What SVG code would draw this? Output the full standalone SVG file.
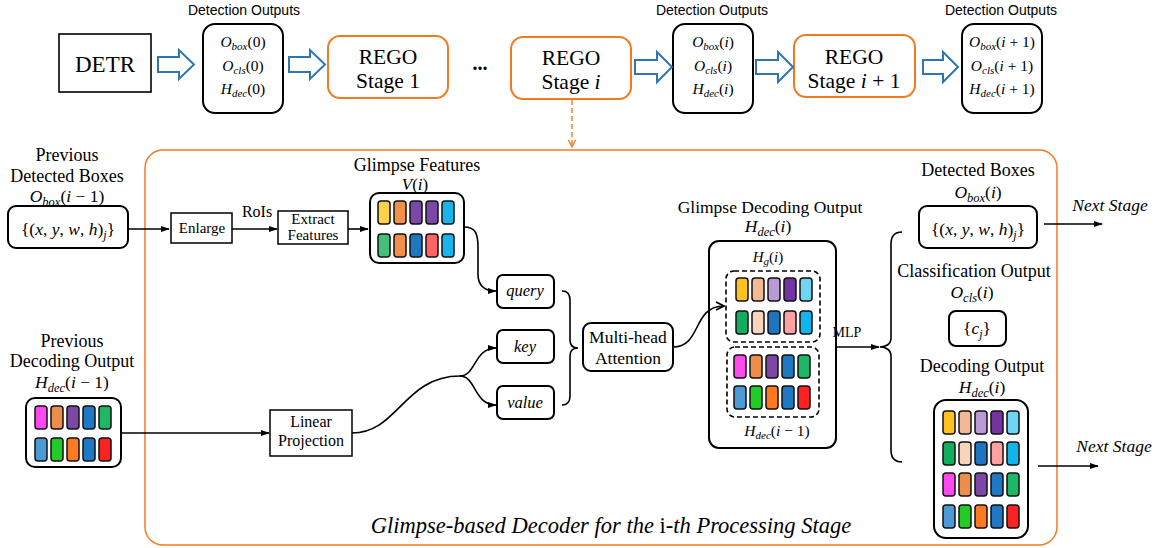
<svg xmlns="http://www.w3.org/2000/svg" xmlns:xlink="http://www.w3.org/1999/xlink" width="1154" height="548" viewBox="0 0 1154 548">
<defs>
<style>
.sf{font-family:"Liberation Serif","Times New Roman",serif;fill:#000}
.ss{font-family:"Liberation Sans",Arial,sans-serif;fill:#000}
.it{font-style:italic}
.box{fill:#fff;stroke:#000;stroke-width:2}
.obox{fill:#fff;stroke:#F47A20;stroke-width:2}
.sq{fill:#fff;stroke:#000;stroke-width:1.5}
.cell{stroke:#111;stroke-width:1.5}
.dash{fill:none;stroke:#000;stroke-width:1.6;stroke-dasharray:5 3}
.blk{fill:#fff;stroke:#2E75B6;stroke-width:2}
.ln{fill:none;stroke:#000;stroke-width:1.6}
</style>
<marker id="ah" viewBox="0 0 10 10" refX="9" refY="5" markerWidth="9" markerHeight="9" markerUnits="userSpaceOnUse" orient="auto"><path d="M0,1.5 L10,5 L0,8.5 z" fill="#000"/></marker>
<marker id="oh" viewBox="0 0 10 10" refX="9" refY="5" markerWidth="10" markerHeight="10" markerUnits="userSpaceOnUse" orient="auto"><path d="M1,1 L9,5 L1,9" fill="none" stroke="#000" stroke-width="1.6"/></marker>
<marker id="orh" viewBox="0 0 10 10" refX="9" refY="5" markerWidth="9" markerHeight="9" markerUnits="userSpaceOnUse" orient="auto"><path d="M1,1 L9,5 L1,9" fill="none" stroke="#F47A20" stroke-width="1.4"/></marker>
<g id="rowV1"><rect class="cell" x="0" y="0" width="12" height="23" rx="3" fill="#FFD24A"/><rect class="cell" x="16" y="0" width="12" height="23" rx="3" fill="#F0904A"/><rect class="cell" x="32" y="0" width="12" height="23" rx="3" fill="#7B48A8"/><rect class="cell" x="48" y="0" width="12" height="23" rx="3" fill="#7B48A8"/><rect class="cell" x="64" y="0" width="12" height="23" rx="3" fill="#1AB4EC"/></g>
<g id="rowV2"><rect class="cell" x="0" y="0" width="12" height="23" rx="3" fill="#45C07A"/><rect class="cell" x="16" y="0" width="12" height="23" rx="3" fill="#F0904A"/><rect class="cell" x="32" y="0" width="12" height="23" rx="3" fill="#1E78C0"/><rect class="cell" x="48" y="0" width="12" height="23" rx="3" fill="#FF6464"/><rect class="cell" x="64" y="0" width="12" height="23" rx="3" fill="#1AB4EC"/></g>
<g id="rowG1"><rect class="cell" x="0" y="0" width="12" height="23" rx="3" fill="#FFC21E"/><rect class="cell" x="16" y="0" width="12" height="23" rx="3" fill="#F5B894"/><rect class="cell" x="32" y="0" width="12" height="23" rx="3" fill="#B89AD4"/><rect class="cell" x="48" y="0" width="12" height="23" rx="3" fill="#7234A0"/><rect class="cell" x="64" y="0" width="12" height="23" rx="3" fill="#70D4F4"/></g>
<g id="rowG2"><rect class="cell" x="0" y="0" width="12" height="23" rx="3" fill="#12AE5E"/><rect class="cell" x="16" y="0" width="12" height="23" rx="3" fill="#F8D4BA"/><rect class="cell" x="32" y="0" width="12" height="23" rx="3" fill="#1E74BE"/><rect class="cell" x="48" y="0" width="12" height="23" rx="3" fill="#FFA0A2"/><rect class="cell" x="64" y="0" width="12" height="23" rx="3" fill="#12B4EC"/></g>
<g id="rowP1"><rect class="cell" x="0" y="0" width="12" height="23" rx="3" fill="#FF48F0"/><rect class="cell" x="16" y="0" width="12" height="23" rx="3" fill="#EE8E4C"/><rect class="cell" x="32" y="0" width="12" height="23" rx="3" fill="#7C48A6"/><rect class="cell" x="48" y="0" width="12" height="23" rx="3" fill="#1F78C4"/><rect class="cell" x="64" y="0" width="12" height="23" rx="3" fill="#1DB866"/></g>
<g id="rowP2"><rect class="cell" x="0" y="0" width="12" height="23" rx="3" fill="#4C9AD4"/><rect class="cell" x="16" y="0" width="12" height="23" rx="3" fill="#22CC28"/><rect class="cell" x="32" y="0" width="12" height="23" rx="3" fill="#FF7A1E"/><rect class="cell" x="48" y="0" width="12" height="23" rx="3" fill="#1F78C4"/><rect class="cell" x="64" y="0" width="12" height="23" rx="3" fill="#FF2222"/></g>
</defs>
<rect width="1154" height="548" fill="#fff"/>

<!-- big decoder frame -->
<g id="decoder-frame">
<rect x="145" y="150" width="912" height="395" rx="18" fill="none" stroke="#F47A20" stroke-width="1.5"/>
<text class="sf it" x="611" y="533" font-size="22.5" text-anchor="middle">Glimpse-based Decoder for the <tspan font-style="normal">i</tspan>-th Processing Stage</text>
</g>

<!-- top row -->
<g id="detr"><rect x="59" y="34" width="92" height="58" fill="#fff" stroke="#000" stroke-width="1.6"/><text class="sf" x="105" y="72" font-size="23" text-anchor="middle">DETR</text></g>

<g id="det0">
<text class="ss" x="244" y="15" font-size="14" text-anchor="middle">Detection Outputs</text>
<rect class="box" x="203" y="24" width="80" height="89" rx="12"/>
<text class="sf" x="243" y="47" font-size="15.5" text-anchor="middle"><tspan class="it">O</tspan><tspan class="it" font-size="11" dy="3">box</tspan><tspan dy="-3">(0)</tspan></text>
<text class="sf" x="243" y="71" font-size="15.5" text-anchor="middle"><tspan class="it">O</tspan><tspan class="it" font-size="11" dy="3">cls</tspan><tspan dy="-3">(0)</tspan></text>
<text class="sf" x="243" y="94" font-size="15.5" text-anchor="middle"><tspan class="it">H</tspan><tspan class="it" font-size="11" dy="3">dec</tspan><tspan dy="-3">(0)</tspan></text>
</g>

<g id="rego1"><rect class="obox" x="328" y="36" width="120" height="62" rx="12"/><text class="sf" x="388" y="64" font-size="21.5" text-anchor="middle">REGO</text><text class="sf" x="388" y="88" font-size="21.5" text-anchor="middle">Stage 1</text></g>

<g id="ellipsis"><text class="sf" x="480" y="70" font-size="20" font-weight="bold" text-anchor="middle">...</text></g>

<g id="regoi"><rect class="obox" x="511" y="37" width="120" height="62" rx="12"/><text class="sf" x="571" y="65" font-size="21.5" text-anchor="middle">REGO</text><text class="sf" x="571" y="89" font-size="21.5" text-anchor="middle">Stage <tspan class="it">i</tspan></text></g>

<g id="deti">
<text class="ss" x="712" y="15" font-size="14" text-anchor="middle">Detection Outputs</text>
<rect class="box" x="673" y="24" width="80" height="89" rx="12"/>
<text class="sf" x="713" y="47" font-size="15.5" text-anchor="middle"><tspan class="it">O</tspan><tspan class="it" font-size="11" dy="3">box</tspan><tspan dy="-3">(</tspan><tspan class="it">i</tspan>)</text>
<text class="sf" x="713" y="71" font-size="15.5" text-anchor="middle"><tspan class="it">O</tspan><tspan class="it" font-size="11" dy="3">cls</tspan><tspan dy="-3">(</tspan><tspan class="it">i</tspan>)</text>
<text class="sf" x="713" y="94" font-size="15.5" text-anchor="middle"><tspan class="it">H</tspan><tspan class="it" font-size="11" dy="3">dec</tspan><tspan dy="-3">(</tspan><tspan class="it">i</tspan>)</text>
</g>

<g id="regoi1"><rect class="obox" x="794" y="35" width="121" height="62" rx="12"/><text class="sf" x="854" y="64" font-size="21.5" text-anchor="middle">REGO</text><text class="sf" x="854" y="88" font-size="21.5" text-anchor="middle">Stage <tspan class="it">i</tspan> + 1</text></g>

<g id="deti1">
<text class="ss" x="1001" y="15" font-size="14" text-anchor="middle">Detection Outputs</text>
<rect class="box" x="962" y="24" width="80" height="89" rx="12"/>
<text class="sf" x="1002" y="47" font-size="15.5" text-anchor="middle"><tspan class="it">O</tspan><tspan class="it" font-size="11" dy="3">box</tspan><tspan dy="-3">(</tspan><tspan class="it">i</tspan> + 1)</text>
<text class="sf" x="1002" y="71" font-size="15.5" text-anchor="middle"><tspan class="it">O</tspan><tspan class="it" font-size="11" dy="3">cls</tspan><tspan dy="-3">(</tspan><tspan class="it">i</tspan> + 1)</text>
<text class="sf" x="1002" y="94" font-size="15.5" text-anchor="middle"><tspan class="it">H</tspan><tspan class="it" font-size="11" dy="3">dec</tspan><tspan dy="-3">(</tspan><tspan class="it">i</tspan> + 1)</text>
</g>

<!-- left inputs -->
<g id="prev-boxes">
<text class="sf" x="67" y="161" font-size="18" text-anchor="middle">Previous</text>
<text class="sf" x="67" y="182" font-size="18" text-anchor="middle">Detected Boxes</text>
<text class="sf" x="67" y="202" font-size="17.5" text-anchor="middle"><tspan class="it">O</tspan><tspan class="it" font-size="12.5" dy="4">box</tspan><tspan dy="-4">(</tspan><tspan class="it">i</tspan> − 1)</text>
<rect class="box" x="8" y="206" width="120" height="42" rx="8"/>
<text class="sf" x="68" y="235" font-size="17.5" text-anchor="middle">{(<tspan class="it">x</tspan>, <tspan class="it">y</tspan>, <tspan class="it">w</tspan>, <tspan class="it">h</tspan>)<tspan class="it" font-size="12" dy="4">j</tspan><tspan dy="-4">}</tspan></text>
</g>

<g id="enlarge"><rect class="sq" x="171" y="213" width="61" height="30"/><text class="sf" x="202" y="233" font-size="15" text-anchor="middle">Enlarge</text></g>
<g id="extract"><rect class="sq" x="278" y="211" width="70" height="33"/><text class="sf" x="313" y="224" font-size="15" text-anchor="middle">Extract</text><text class="sf" x="313" y="240" font-size="15" text-anchor="middle">Features</text></g>

<g id="glimpse-features">
<text class="sf" x="417" y="171" font-size="18" text-anchor="middle">Glimpse Features</text>
<text class="sf" x="415" y="190" font-size="17" text-anchor="middle"><tspan class="it">V</tspan>(<tspan class="it">i</tspan>)</text>
<rect class="box" x="370" y="193" width="94" height="70" rx="9"/>
<use xlink:href="#rowV1" x="378" y="201"/>
<use xlink:href="#rowV2" x="378" y="234"/>
</g>

<g id="prev-decoding">
<text class="sf" x="72" y="347" font-size="18" text-anchor="middle">Previous</text>
<text class="sf" x="72" y="367" font-size="18" text-anchor="middle">Decoding Output</text>
<text class="sf" x="72" y="388" font-size="17.5" text-anchor="middle"><tspan class="it">H</tspan><tspan class="it" font-size="12.5" dy="4">dec</tspan><tspan dy="-4">(</tspan><tspan class="it">i</tspan> − 1)</text>
<rect class="box" x="26" y="398" width="95" height="69" rx="9"/>
<use xlink:href="#rowP1" x="35" y="406"/>
<use xlink:href="#rowP2" x="35" y="438"/>
</g>

<g id="linear"><rect class="sq" x="270" y="410" width="82" height="46"/><text class="sf" x="311" y="427" font-size="16" text-anchor="middle">Linear</text><text class="sf" x="311" y="446" font-size="16" text-anchor="middle">Projection</text></g>

<g id="query"><rect class="box" x="497" y="275" width="57" height="33" rx="6"/><text class="sf it" x="525" y="296" font-size="16.5" text-anchor="middle">query</text></g>
<g id="key"><rect class="box" x="497" y="330" width="57" height="33" rx="6"/><text class="sf it" x="525" y="352" font-size="16.5" text-anchor="middle">key</text></g>
<g id="value"><rect class="box" x="497" y="386" width="57" height="33" rx="6"/><text class="sf it" x="525" y="408" font-size="16.5" text-anchor="middle">value</text></g>

<g id="mha"><rect class="box" x="583" y="323" width="90" height="48" rx="8"/><text class="sf" x="628" y="343" font-size="17.5" text-anchor="middle">Multi-head</text><text class="sf" x="628" y="364" font-size="17.5" text-anchor="middle">Attention</text></g>

<g id="glimpse-decoding">
<text class="sf" x="770" y="213" font-size="17.5" text-anchor="middle">Glimpse Decoding Output</text>
<text class="sf" x="768" y="232" font-size="17.5" text-anchor="middle"><tspan class="it">H</tspan><tspan class="it" font-size="12.5" dy="4">dec</tspan><tspan dy="-4">(</tspan><tspan class="it">i</tspan>)</text>
<rect class="box" x="709" y="241" width="127" height="207" rx="10"/>
<text class="sf" x="768" y="262" font-size="15" text-anchor="middle"><tspan class="it">H</tspan><tspan class="it" font-size="11" dy="3">g</tspan><tspan dy="-3">(</tspan><tspan class="it">i</tspan>)</text>
<rect class="dash" x="726" y="271" width="94" height="71" rx="8"/>
<use xlink:href="#rowG1" x="736" y="278"/>
<use xlink:href="#rowG2" x="736" y="311"/>
<rect class="dash" x="727" y="347" width="92" height="70" rx="8"/>
<use xlink:href="#rowP1" x="734" y="355"/>
<use xlink:href="#rowP2" x="734" y="386"/>
<text class="sf" x="777" y="436" font-size="15.5" text-anchor="middle"><tspan class="it">H</tspan><tspan class="it" font-size="11" dy="3">dec</tspan><tspan dy="-3">(</tspan><tspan class="it">i</tspan> − 1)</text>
</g>

<g id="detected-boxes">
<text class="sf" x="978" y="176" font-size="18" text-anchor="middle">Detected Boxes</text>
<text class="sf" x="978" y="198" font-size="17.5" text-anchor="middle"><tspan class="it">O</tspan><tspan class="it" font-size="12.5" dy="4">box</tspan><tspan dy="-4">(</tspan><tspan class="it">i</tspan>)</text>
<rect class="box" x="919" y="206" width="118" height="42" rx="8"/>
<text class="sf" x="978" y="235" font-size="17.5" text-anchor="middle">{(<tspan class="it">x</tspan>, <tspan class="it">y</tspan>, <tspan class="it">w</tspan>, <tspan class="it">h</tspan>)<tspan class="it" font-size="12" dy="4">j</tspan><tspan dy="-4">}</tspan></text>
</g>

<g id="classification">
<text class="sf" x="974" y="277" font-size="18" text-anchor="middle">Classification Output</text>
<text class="sf" x="972" y="298" font-size="17.5" text-anchor="middle"><tspan class="it">O</tspan><tspan class="it" font-size="12.5" dy="4">cls</tspan><tspan dy="-4">(</tspan><tspan class="it">i</tspan>)</text>
<rect class="box" x="949" y="311" width="57" height="35" rx="7"/>
<text class="sf" x="977" y="334" font-size="17.5" text-anchor="middle">{<tspan class="it">c</tspan><tspan class="it" font-size="12" dy="4">j</tspan><tspan dy="-4">}</tspan></text>
</g>

<g id="decoding-output">
<text class="sf" x="982" y="372" font-size="18" text-anchor="middle">Decoding Output</text>
<text class="sf" x="982" y="393" font-size="17.5" text-anchor="middle"><tspan class="it">H</tspan><tspan class="it" font-size="12.5" dy="4">dec</tspan><tspan dy="-4">(</tspan><tspan class="it">i</tspan>)</text>
<rect class="box" x="934" y="400" width="94" height="138" rx="12"/>
<use xlink:href="#rowG1" x="943" y="411"/>
<use xlink:href="#rowG2" x="943" y="442"/>
<use xlink:href="#rowP1" x="943" y="473"/>
<use xlink:href="#rowP2" x="943" y="505"/>
</g>

<!-- connectors -->
<g id="connectors">
<polygon class="blk" points="158,57 179,57 179,50 194,64.5 179,79 179,72 158,72"/>
<polygon class="blk" points="289,57 310,57 310,50 325,64.5 310,79 310,72 289,72"/>
<polygon class="blk" points="635,60 657,60 657,52 672,67 657,82 657,74 635,74"/>
<polygon class="blk" points="756,60 778,60 778,52 793,67 778,82 778,74 756,74"/>
<polygon class="blk" points="923,60 943,60 943,52 958,67 943,82 943,74 923,74"/>
<path d="M572,100 L572,147" fill="none" stroke="#F47A20" stroke-width="1.4" stroke-dasharray="5 3" marker-end="url(#orh)"/>
<path class="ln" d="M128,229 L169,229" marker-end="url(#ah)"/>
<path class="ln" d="M232,229 L277,229" marker-end="url(#ah)"/>
<text class="sf" x="257" y="217" font-size="16" text-anchor="middle">RoIs</text>
<path class="ln" d="M348,229 L368,229" marker-end="url(#ah)"/>
<path class="ln" d="M464,227 C476,227 478,234 478,248 L478,274 C478,286 484,291 496,291" marker-end="url(#ah)"/>
<path class="ln" d="M121,433 L269,433" marker-end="url(#ah)"/>
<path class="ln" d="M352,433 C398,433 404,376 460,376"/>
<path class="ln" d="M460,376 C476,376 474,348 496,348" marker-end="url(#ah)"/>
<path class="ln" d="M460,376 C476,376 474,405 496,405" marker-end="url(#ah)"/>
<path class="ln" d="M562,291 C568,291 570,294 570,300 L570,340 C570,345 573,348 578,348 C573,348 570,351 570,356 L570,396 C570,402 568,405 562,405"/>
<path class="ln" d="M673,347 C702,347 692,306 724,306" marker-end="url(#oh)"/>
<text class="sf" x="847" y="337" font-size="14" text-anchor="middle">MLP</text>
<path class="ln" d="M836,347 L879,347" marker-end="url(#ah)"/>
<path class="ln" d="M902,232 C894,232 891,236 891,244 L891,338 C891,344 886,347 880,347 C886,347 891,350 891,356 L891,450 C891,458 894,462 902,462"/>
<path class="ln" d="M1044,224 L1102,224" marker-end="url(#ah)"/>
<text class="sf it" x="1110" y="211" font-size="17.5" text-anchor="middle">Next Stage</text>
<path class="ln" d="M1038,466 L1098,466" marker-end="url(#ah)"/>
<text class="sf it" x="1114" y="452" font-size="17.5" text-anchor="middle">Next Stage</text>
</g>
</svg>
